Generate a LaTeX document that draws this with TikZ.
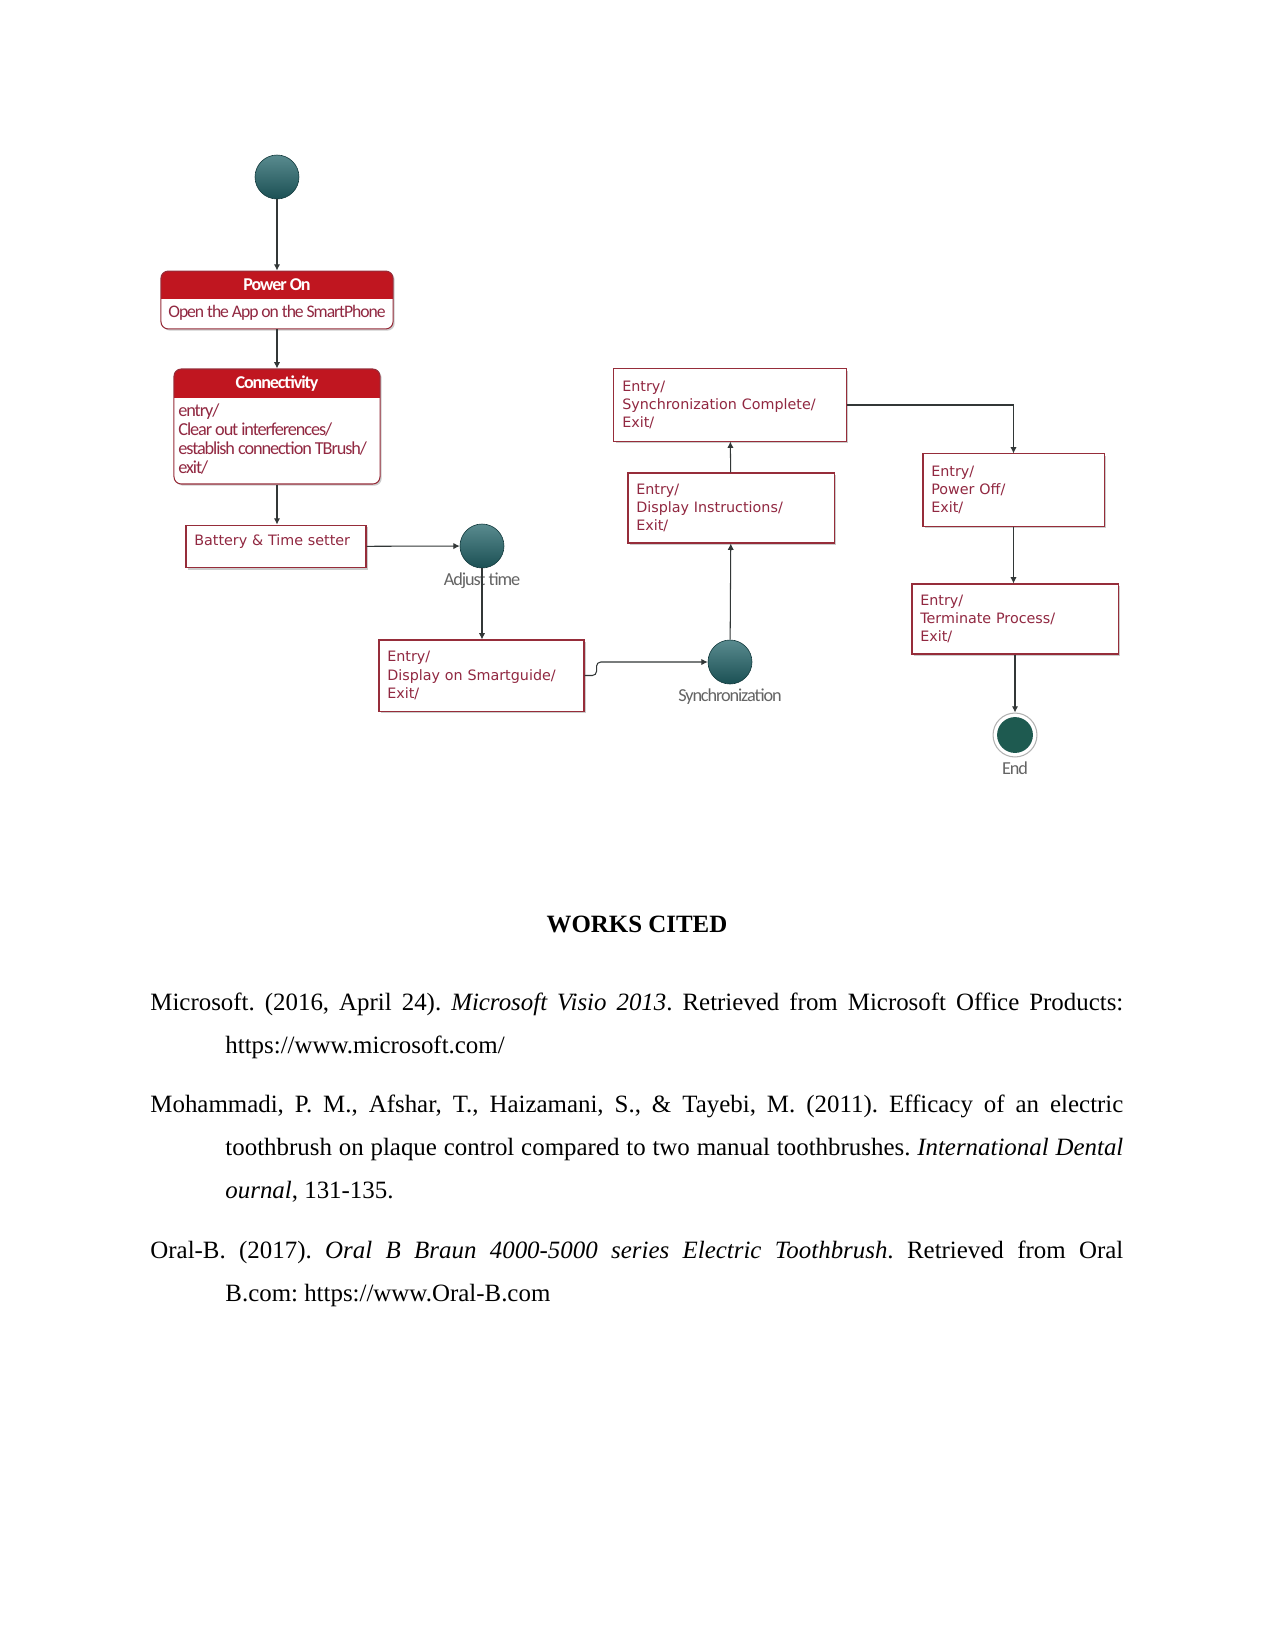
\documentclass[tikz,border=0pt]{standalone}
\usepackage{fontspec}
\setmainfont{Liberation Serif}
\newfontfamily\vsans{DejaVu Sans}
\newfontfamily\vcal[LetterSpace=-6]{Carlito}
\usetikzlibrary{arrows.meta, positioning, shadows}
\definecolor{hdr}{RGB}{192, 22, 32}
\definecolor{rim}{RGB}{150, 45, 58}
\definecolor{ink}{RGB}{145, 40, 65}
\definecolor{teal0}{RGB}{34, 100, 105}
\definecolor{endfill}{RGB}{30, 90, 80}
\definecolor{wire}{RGB}{50, 55, 55}
\definecolor{graytxt}{RGB}{100, 100, 100}

\begin{document}
\begin{tikzpicture}[x=0.48bp, y=-0.48bp,
    every node/.style={inner sep=0pt},
    vsm/.style={font=\vsans\fontsize{6.9}{8.8}\selectfont, text=ink},
    vcl/.style={font=\vcal\fontsize{8.8}{9.1}\selectfont},
    dot/.style={circle, minimum size=21.1bp, top color=teal0!75!white,
                bottom color=teal0!80!black, draw=teal0!60!black, line width=0.3bp},
    shade box/.style={drop shadow={shadow xshift=0.8bp, shadow yshift=-0.8bp,
                      fill=black, opacity=0.2}},
    umlstate/.style={rectangle, draw=rim, fill=white, line width=0.5bp,
                     rounded corners=3.5bp, shade box,
                     path picture={\fill[hdr, sharp corners]
                       (path picture bounding box.north west) rectangle
                       ([yshift=-#1]path picture bounding box.north east);}},
    hdrtext/.style={font=\vcal\bfseries\fontsize{8.7}{9}\selectfont, text=white},
    entry/.style={rectangle, draw=rim, fill=white, line width=0.5bp, shade box,
                  vsm, align=left, inner xsep=4bp},
    lbl/.style={vcl, text=graytxt},
    flow/.style={-{Latex[length=3bp, width=3bp]}, draw=wire, line width=0.5bp},
    ref/.style={anchor=north west, font=\fontsize{12}{20.7}\selectfont}
  ]
  \fill[white] (0,0) rectangle (1275,1650);
  \useasboundingbox (0,0) rectangle (1275,1650);

  % states
  \node[dot] (start) at (277,177) {};
  \node[umlstate=13.4bp, minimum width=111.4bp, minimum height=27.8bp] (power) at (277,300) {};
  \node[hdrtext] (powerhd) at (277,285) {Power On};
  \node[vcl, font=\vcal\fontsize{8.5}{9}\selectfont, text=ink] (powertx) at (277,313)
       {Open the App on the SmartPhone};

  \node[umlstate=13.9bp, minimum width=98.9bp, minimum height=55.2bp] (conn) at (277,426.5) {};
  \node[hdrtext] (connhd) at (277,383.5) {Connectivity};
  \node[vcl, text=ink, align=left, anchor=west] (conntx) at (178,439)
       {entry/\\Clear out interferences/\\establish connection TBrush/\\exit/};

  \node[entry, text width=78.4bp, minimum height=20.6bp, text height=5.2bp,
        text depth=6.4bp] (batt) at (276,546.5) {Battery \& Time setter};
  \node[dot] (adj) at (482,546) {};
  \node[lbl, below=2bp of adj] (adjlbl) {Adjust time};

  \node[entry, text width=90.4bp, minimum height=34.1bp] (smart) at (481.5,675.5)
       {Entry/\\Display on Smartguide/\\Exit/};
  \node[dot] (sync) at (730,662) {};
  \node[lbl, below=2bp of sync] (synclbl) {Synchronization};

  \node[entry, text width=90.9bp, minimum height=33.6bp] (instr) at (731,508)
       {Entry/\\Display Instructions/\\Exit/};
  \node[entry, text width=103.4bp, minimum height=34.6bp] (syncc) at (730,405)
       {Entry/\\Synchronization Complete/\\Exit/};
  \node[entry, text width=78.9bp, minimum height=34.6bp] (poff) at (1013.5,490)
       {Entry/\\Power Off/\\Exit/};
  \node[entry, text width=90.9bp, minimum height=33.6bp] (term) at (1015,619)
       {Entry/\\Terminate Process/\\Exit/};
  \node[circle, draw=gray!60, fill=white, line width=0.5bp, minimum size=21.1bp,
        path picture={\fill[endfill] (path picture bounding box.center) circle (8.6bp);}]
       (end) at (1015,735) {};
  \node[lbl, below=2bp of end] (endlbl) {End};

  % transitions
  \draw[flow] (start) -- (power);
  \draw[flow] (power) -- (conn);
  \draw[flow] (conn.south) -- (conn.south |- batt.north);
  \draw[flow] (batt) -- (adj);
  \draw[flow] (adj.south) -- (adj.south |- smart.north);
  \draw[flow, rounded corners=2bp] (smart.east) -- ++(12,0) |- (sync);
  \draw[flow] (sync) -- (instr);
  \draw[flow] (instr) -- (syncc);
  \draw[flow] (syncc.east) -| (poff);
  \draw[flow] (poff.south) -- (poff.south |- term.north);
  \draw[flow] (term) -- (end);

  % works cited
  \node[font=\fontsize{12}{14}\selectfont\bfseries, anchor=base] (wchead) at (637,932)
       {WORKS CITED};
  \node[ref] (ref1) at (150,980)
       {\parbox[t]{467bp}{\frenchspacing\hangindent=36bp\hangafter=1\strut
        Microsoft. (2016, April 24). \textit{Microsoft Visio 2013}. Retrieved from
        Microsoft Office Products:\linebreak https://www.microsoft.com/\strut}};
  \node[ref, below right=7.5bp and 0bp of ref1.south west] (ref2)
       {\parbox[t]{467bp}{\frenchspacing\hangindent=36bp\hangafter=1\strut
        Mohammadi, P. M., Afshar, T., Haizamani, S., \& Tayebi, M. (2011). Efficacy
        of an electric\linebreak toothbrush on plaque control compared to two manual
        toothbrushes. \textit{International Dental}\linebreak \textit{ournal},
        131-135.\strut}};
  \node[ref, below right=7.5bp and 0bp of ref2.south west] (ref3)
       {\parbox[t]{467bp}{\frenchspacing\hangindent=36bp\hangafter=1\strut
        Oral-B. (2017). \textit{Oral B Braun 4000-5000 series Electric Toothbrush}.
        Retrieved from Oral\linebreak B.com: https://www.Oral-B.com\strut}};
\end{tikzpicture}
\end{document}
